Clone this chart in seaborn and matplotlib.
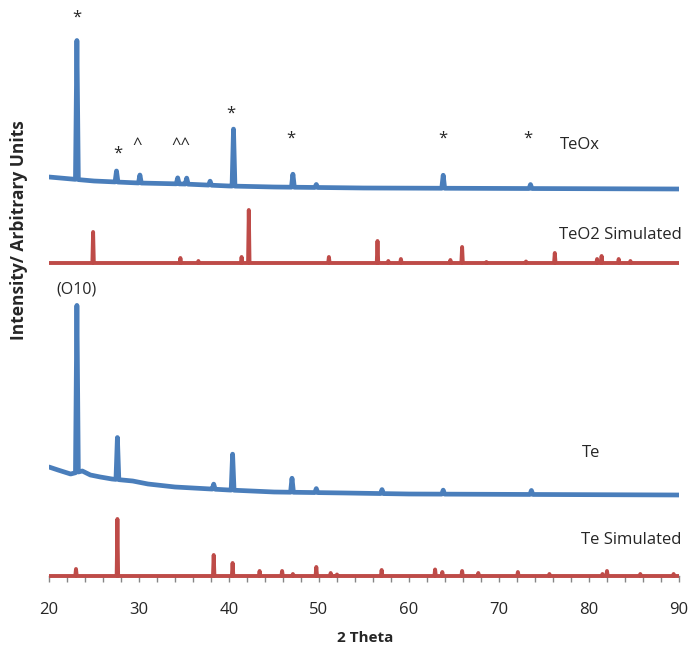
import numpy as np
import pandas as pd
import matplotlib
matplotlib.use("Agg")
import matplotlib.pyplot as plt
from matplotlib.ticker import MultipleLocator
import seaborn as sns

# ---- diffraction data (2-theta in degrees, intensity in arbitrary units) ----
# TeOx measured pattern: background anchors and peaks (position, height above background)
teox_bg_x = [20, 22.5, 25, 30, 35, 40, 45, 55, 90]
teox_bg_y = [399, 397, 395, 393, 392, 390, 389, 388, 387]
teox_pk_x = [23.1, 27.5, 30.1, 34.3, 35.3, 37.9, 40.5, 47.1, 49.7, 63.8, 73.5]
teox_pk_h = [139, 11, 8, 6, 6, 4, 57, 13, 3, 13, 4]

# TeO2 simulated pattern
teo2_bg_x = [20, 90]
teo2_bg_y = [313, 313]
teo2_pk_x = [24.9, 34.6, 36.6, 41.4, 42.2, 51.1, 56.5, 57.7, 59.1, 64.6, 65.9,
             68.6, 73.0, 76.2, 80.9, 81.4, 83.3, 84.6]
teo2_pk_h = [31, 5, 2, 6, 53, 6, 22, 2, 4, 3, 16, 1, 1.5, 10, 4, 7, 4, 2]

# Te measured pattern
te_bg_x = [20, 21, 22.4, 23.7, 24.6, 25.7, 27, 29.3, 31, 34, 38, 40, 45, 53, 60, 90]
te_bg_y = [109, 106, 102, 105, 101, 99, 97, 95, 92, 89, 87, 86, 84, 83, 82, 81]
te_pk_x = [23.1, 27.6, 38.3, 40.4, 47.0, 49.7, 57.0, 63.8, 73.6]
te_pk_h = [167, 42, 5, 36, 14, 4, 4, 4, 4]

# Te simulated pattern
tesim_bg_x = [20, 90]
tesim_bg_y = [0, 0]
tesim_pk_x = [23.0, 27.6, 38.3, 40.4, 43.4, 45.9, 47.1, 49.7, 51.3, 52.0, 56.96,
              62.9, 63.7, 65.9, 67.7, 72.1, 75.6, 81.5, 82.0, 85.7, 89.4]
tesim_pk_h = [7, 57, 21, 13, 5, 5, 2, 9, 3, 1.5, 6, 6.5, 4, 5, 3, 4, 2, 2, 5, 2, 2]

# phase markers on the TeOx pattern: (label, 2-theta, height)
marker_text = ["*", "*", "^", "^^", "*", "*", "*", "*"]
marker_x = [23.1, 27.67, 29.78, 34.67, 40.2, 46.9, 63.8, 73.2]
marker_y = [558, 422, 431, 431, 462, 437, 437, 437]

BLUE = "#4A7EBB"
RED = "#BE4B48"


def pattern(bg_x, bg_y, pk_x, pk_h, half):
    """Polyline for a diffraction pattern: background plus narrow peaks."""
    xs, ys = [], []
    windows = [(p - half, p + half) for p in pk_x]
    for x, y in zip(bg_x, bg_y):
        if not any(a <= x <= b for a, b in windows):
            xs.append(x)
            ys.append(y)
    for p, h in zip(pk_x, pk_h):
        for x, dy in ((p - half, 0.0), (p, h), (p + half, 0.0)):
            xs.append(x)
            ys.append(float(np.interp(x, bg_x, bg_y)) + dy)
    order = np.argsort(xs)
    return pd.DataFrame({"two_theta": np.asarray(xs)[order],
                         "intensity": np.asarray(ys)[order]})


sns.set_theme(style="white")
plt.rcParams["font.family"] = ["Open Sans", "DejaVu Sans"]

fig = plt.figure(figsize=(6.93, 6.49), dpi=100)
W, H = 693, 649
ax = fig.add_axes([49 / W, 63 / H, 630 / W, 576 / H])

traces = [
    (pattern(teox_bg_x, teox_bg_y, teox_pk_x, teox_pk_h, 0.16), BLUE, 3.4),
    (pattern(teo2_bg_x, teo2_bg_y, teo2_pk_x, teo2_pk_h, 0.08), RED, 2.8),
    (pattern(te_bg_x, te_bg_y, te_pk_x, te_pk_h, 0.16), BLUE, 3.4),
    (pattern(tesim_bg_x, tesim_bg_y, tesim_pk_x, tesim_pk_h, 0.08), RED, 2.8),
]
for df, col, lw in traces:
    sns.lineplot(data=df, x="two_theta", y="intensity", ax=ax, color=col,
                 linewidth=lw, estimator=None, sort=False, zorder=3)

ax.set_xlim(20, 90)
ax.set_ylim(-10, 566)
ax.set_yticks([])
for s in ("left", "top", "right"):
    ax.spines[s].set_visible(False)
ax.spines["bottom"].set_position(("data", 0))
ax.spines["bottom"].set_color("#868686")
ax.spines["bottom"].set_linewidth(1)
ax.xaxis.set_major_locator(MultipleLocator(10))
ax.xaxis.set_minor_locator(MultipleLocator(2))
ax.tick_params(axis="x", which="both", direction="out", length=4.5, width=1,
               color="#868686", bottom=True)
ax.tick_params(axis="x", which="major", pad=14, labelsize=12, labelcolor="#262626")

ax.set_xlabel("")
ax.set_ylabel("Intensity/ Arbitrary Units", fontsize=12.5, fontweight="bold",
              color="#262626")
ax.yaxis.set_label_coords(-0.034, 0.618)
fig.text(365 / W, 1 - 638 / H, "2 Theta", ha="center", va="center",
         fontsize=11, fontweight="bold", color="#262626")

# phase markers
for t, x, y in zip(marker_text, marker_x, marker_y):
    ax.text(x, y, t, ha="center", va="center", fontsize=12, color="#262626",
            clip_on=False)

ax.text(23.1, 287, "(O10)", ha="center", va="center", fontsize=11.5, color="#262626")

# trace labels
ax.text(81.2, 431, "TeOx", ha="right", va="center", fontsize=12, color="#262626")
ax.text(90.3, 341, "TeO2 Simulated", ha="right", va="center", fontsize=12, color="#262626")
ax.text(81.2, 123, "Te", ha="right", va="center", fontsize=12, color="#262626")
ax.text(90.3, 36, "Te Simulated", ha="right", va="center", fontsize=12, color="#262626")

fig.savefig("out.png", dpi=100)
